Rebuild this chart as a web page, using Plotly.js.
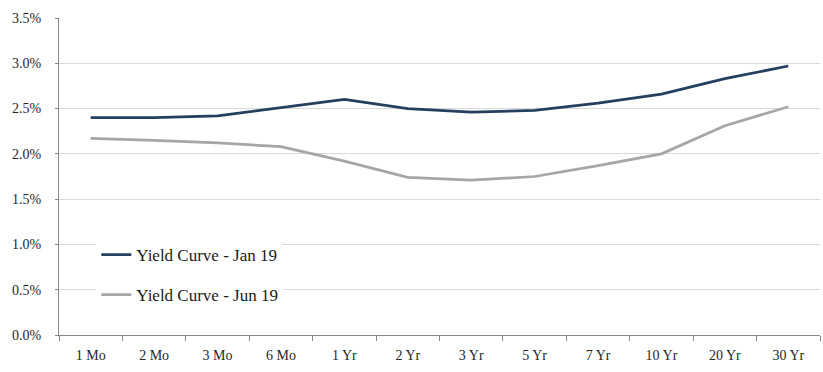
<!DOCTYPE html>
<html>
<head>
<meta charset="utf-8">
<script src="https://cdn.plot.ly/plotly-3.0.1.min.js"></script>
<style>html,body{margin:0;padding:0;background:#fff;}#chart{width:823px;height:372px;}</style>
</head>
<body>
<div id="chart"></div>
<script>
const categories = ["1 Mo","2 Mo","3 Mo","6 Mo","1 Yr","2 Yr","3 Yr","5 Yr","7 Yr","10 Yr","20 Yr","30 Yr"];
const jan19 = [2.40, 2.40, 2.42, 2.51, 2.60, 2.50, 2.46, 2.48, 2.56, 2.66, 2.83, 2.97];
const jun19 = [2.17, 2.15, 2.12, 2.08, 1.92, 1.74, 1.71, 1.75, 1.87, 2.00, 2.31, 2.52];
const seriesNames = ["Yield Curve - Jan 19", "Yield Curve - Jun 19"];

const font = "'Liberation Serif', 'DejaVu Serif', serif";
const traces = [
  {x: categories, y: jan19, name: seriesNames[0], type: "scatter", mode: "lines",
   line: {color: "#243F60", width: 2.75}, legend: "legend"},
  {x: categories, y: jun19, name: seriesNames[1], type: "scatter", mode: "lines",
   line: {color: "#A6A6A6", width: 2.75}, legend: "legend2"}
];
const legendCommon = {bgcolor: "#ffffff", borderwidth: 0, font: {family: font, size: 17, color: "#1a1a1a"},
  xanchor: "left", yanchor: "middle", itemwidth: 30};
const layout = {
  width: 823, height: 372,
  margin: {l: 59, r: 3, t: 18, b: 37},
  paper_bgcolor: "#ffffff", plot_bgcolor: "#ffffff",
  font: {family: font, size: 14, color: "#262626"},
  showlegend: true,
  legend: Object.assign({x: 0.049, y: 0.252}, legendCommon),
  legend2: Object.assign({x: 0.049, y: 0.126}, legendCommon),
  xaxis: {type: "category", showgrid: false, showline: true, linecolor: "#888888", linewidth: 1,
    ticks: "outside", ticklen: 5, tickcolor: "#888888", tickson: "boundaries", ticklabelstandoff: 7,
    tickfont: {family: font, size: 14, color: "#262626"}, range: [-0.5, 11.5], fixedrange: true},
  yaxis: {range: [0, 3.5], dtick: 0.5, tickformat: ".1f", ticksuffix: "%",
    showgrid: true, gridcolor: "#d9d9d9", gridwidth: 1, showline: true, linecolor: "#888888",
    linewidth: 1, zeroline: false, ticks: "outside", ticklen: 3, tickcolor: "#888888", ticklabelstandoff: 11,
    tickfont: {family: font, size: 14, color: "#262626"}, fixedrange: true}
};
Plotly.newPlot("chart", traces, layout, {displayModeBar: false, staticPlot: true});
</script>
</body>
</html>
